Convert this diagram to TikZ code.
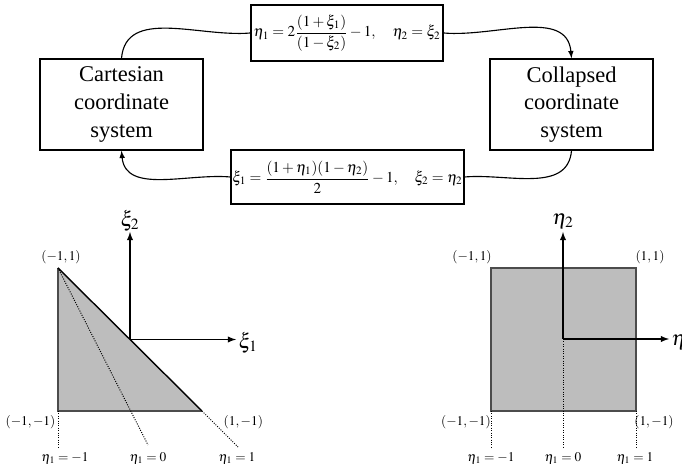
\documentclass[tikz,border=0pt]{standalone}
\usepackage{mathptmx}
\usepackage[no-math]{fontspec}
\setmainfont{Liberation Serif}
\tikzset{
  sysbox/.style={draw,line width=1pt,align=center,minimum width=4.075cm,minimum height=2.275cm,
    font=\fontsize{16}{19.6}\selectfont},
  mapbox/.style={draw,line width=1pt,fill=white,inner sep=1pt,font=\fontsize{10.8}{13}\selectfont},
  flow/.style={line width=0.8pt},
  corner/.style={font=\fontsize{9.5}{11}\selectfont,inner sep=1pt},
  axislab/.style={font=\fontsize{15}{18}\selectfont,inner sep=1pt},
  axis/.style={line width=1pt,-latex},
  isoline/.style={densely dotted,line width=0.7pt}
}
\begin{document}
\begin{tikzpicture}[x=0.025cm,y=0.025cm]
  \useasboundingbox (0,0) rectangle (682,471);
  % Coordinate systems and the two mappings
  \node[sysbox] (cart) at (121.5,366.5) {Cartesian\\coordinate\\system};
  \node[sysbox] (coll) at (571.5,366.5) {Collapsed\\coordinate\\system};
  \node[mapbox,minimum width=4.8cm,minimum height=1.4cm] (fwd) at (347,438)
    {$\displaystyle\eta_1=2\frac{(1+\xi_1)}{(1-\xi_2)}-1,\quad\eta_2=\xi_2$};
  \node[mapbox,minimum width=5.625cm,minimum height=1.35cm] (bwd) at (347.5,294)
    {$\displaystyle\xi_1=\frac{(1+\eta_1)(1-\eta_2)}{2}-1,\quad\xi_2=\eta_2$};
  \draw[flow] (cart.north) to[out=85,in=185] (fwd.west);
  \draw[flow,-latex] (fwd.east) to[out=-5,in=95] (coll.north);
  \draw[flow] (coll.south) to[out=-95,in=5] (bwd.east);
  \draw[flow,-latex] (bwd.west) to[out=175,in=-85] (cart.south);

  % Triangle in Cartesian coordinates
  \coordinate (tl) at (58,203);
  \coordinate (bl) at (58,60);
  \coordinate (br) at (202,60);
  \coordinate (xo) at (130,131.5);
  \fill[black!26] (tl) -- (bl) -- (br) -- cycle;
  \draw[line width=0.9pt,black!70] (tl) -- (bl) -- (br);
  \draw[line width=1pt] (tl) -- (br);
  \draw[isoline] (tl) -- (148,26);
  \draw[isoline] (br) -- (238,24);
  \draw[isoline] (bl) -- (58,24);
  \draw[axis] (xo) -- (130,239);
  \draw[axis] (xo) -- (236,131.5);
  \node[axislab] (xitwo) at (130,250) {$\xi_2$};
  \node[axislab,anchor=west] (xione) at (237,128) {$\xi_1$};
  \node[corner] (tltext) at (61,214) {$(-1,1)$};
  \node[corner,anchor=east] (bltext) at (57,49) {$(-1,-1)$};
  \node[corner,anchor=west] (brtext) at (222,49) {$(1,-1)$};
  \foreach \x/\v [count=\i] in {65/-1,148/0,237/1}
    \node[corner] (tlev\i) at (\x,13) {$\eta_1=\v$};

  % Square in collapsed coordinates
  \coordinate (so) at (563,132);
  \fill[black!26] (491,60) rectangle (636,203);
  \draw[line width=0.9pt,black!70] (491,60) rectangle (636,203);
  \draw[isoline] (491,60) -- (491,24);
  \draw[isoline] (so) -- (563,24);
  \draw[isoline] (636,60) -- (636,24);
  \draw[axis] (so) -- (563,239);
  \draw[axis] (so) -- (669,132);
  \node[axislab] (etatwo) at (563,250) {$\eta_2$};
  \node[axislab,anchor=west] (etaone) at (670,129) {$\eta_1$};
  \node[corner] (sqtl) at (472,214) {$(-1,1)$};
  \node[corner] (sqtr) at (650,214) {$(1,1)$};
  \node[corner] (sqbl) at (466,49) {$(-1,-1)$};
  \node[corner] (sqbr) at (654,49) {$(1,-1)$};
  \foreach \x/\v [count=\i] in {491/-1,563/0,635/1}
    \node[corner] (slev\i) at (\x,13) {$\eta_1=\v$};
\end{tikzpicture}
\end{document}
